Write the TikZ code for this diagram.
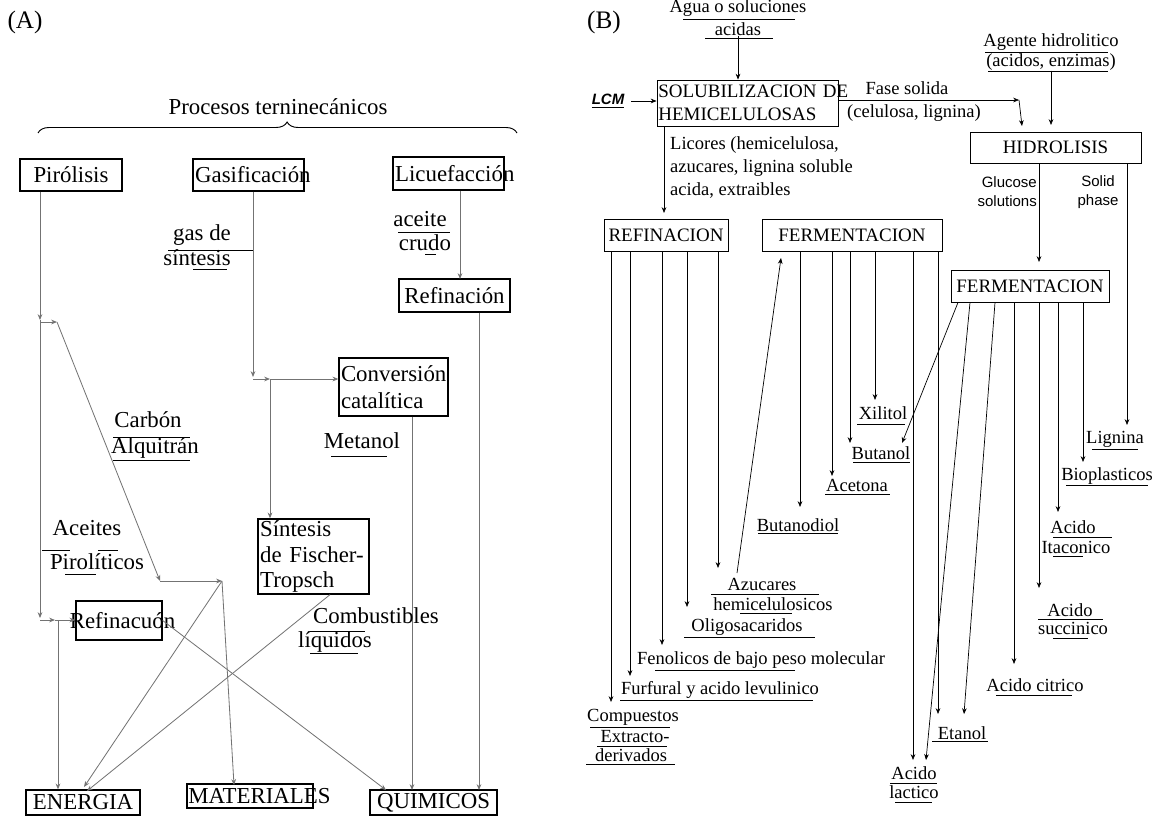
\documentclass[tikz,border=0pt]{standalone}
\usepackage{fontspec}
\setmainfont{Liberation Serif}
\setsansfont{Liberation Sans}
\usetikzlibrary{arrows.meta, decorations.pathreplacing}

\newcommand\fntA{\fontsize{19.5}{23}\selectfont}
\newcommand\fntB{\fontsize{15.8}{19.5}\selectfont}
\newcommand\fntS{\fontsize{12.8}{16}\selectfont\sffamily}

\tikzset{
  arr/.style={-{Stealth[length=5pt,width=4pt]}},
  boxA/.style={draw, line width=1.1pt, inner sep=1pt, font=\fntA},
  boxB/.style={draw, line width=0.7pt, inner sep=1pt, font=\fntB},
  txtA/.style={inner sep=0pt, font=\fntA},
  txtB/.style={inner sep=0pt, font=\fntB},
  lnA/.style={draw=black!55, line width=0.7pt, arr},
  lnB/.style={draw=black, line width=0.6pt, arr},
  ul/.style={line width=0.6pt},
}

\begin{document}
\begin{tikzpicture}[x=0.03cm, y=-0.03cm]
    \useasboundingbox (0,0) rectangle (1158,816);

    % panel A
    \node[txtA, font=\fontsize{21.5}{24}\selectfont] (tA) at (25,22) {(A)};
    \node[txtA] (proc) at (278,107) {Procesos terninecánicos};
    \draw[line width=0.8pt, decorate, decoration={brace, amplitude=0.33cm, aspect=0.52}] (38,133) -- (517,133);

    \node[boxA, minimum width=3.06cm, minimum height=0.96cm] (pir) at (71,175) {Pirólisis};
    \node[boxA, minimum width=3.33cm, minimum height=0.96cm, text width=3.2cm, align=left] (gas) at (248.5,175) {\mbox{Gasificación}};
    \node[boxA, minimum width=3.33cm, minimum height=0.99cm, text width=3.2cm, align=left] (licu) at (448.5,173.5) {\mbox{Licuefacción}};
    \node[boxA, minimum width=3.33cm, minimum height=0.99cm] (refA) at (454.5,295.5) {Refinación};
    \node[boxA, minimum width=3.27cm, minimum height=1.74cm, text width=3.15cm, align=left] (conv) at (393.5,387) {Conversión\\catalítica};
    \node[boxA, inner sep=0pt, minimum width=3.33cm, minimum height=2.25cm, text width=3.2cm, align=left, font=\fontsize{19.5}{22}\selectfont] (ft) at (313.5,556.5) {Síntesis\\de Fischer-\\Tropsch};
    \node[boxA, minimum width=2.58cm, minimum height=1.17cm] (refin) at (119,620.5) {\makebox[0pt]{\hspace{6pt}Refinacuón}};
    \node[boxA, minimum width=3.42cm, minimum height=0.75cm] (energ) at (83,802.5) {ENERGIA};
    \node[boxA, minimum width=3.78cm, minimum height=0.72cm, text width=3.7cm, align=left] (mat) at (250,796) {\mbox{MATERIALES}};
    \node[boxA, minimum width=3.81cm, minimum height=0.75cm] (quim) at (433.5,802.5) {QUIMICOS};

    \coordinate (pj1) at (40,320);
    \coordinate (pk1) at (57,322);
    \coordinate (pk2) at (160,581);
    \coordinate (pk3) at (222,581);
    \coordinate (pj2) at (40,618);
    \coordinate (rj1) at (55,620);
    \coordinate (rj2) at (58,620);
    \coordinate (e1) at (84,787);
    \coordinate (e2) at (87,791);
    \coordinate (m1) at (234,785);
    \coordinate (q1) at (386,790);
    \coordinate (fts) at (330,596);
    \coordinate (gj) at (253,377);
    \coordinate (gk) at (270,379);
    \coordinate (cq) at (412,790);
    \coordinate (lr) at (460,279);
    \coordinate (rq) at (479,790);

    \draw[lnA] (pir.south -| pj1) -- (pj1);
    \draw[lnA] (pj1) -- (pj2);
    \draw[lnA] (pj1 |- pk1) -- (pk1);
    \draw[lnA] (pk1) -- (pk2);
    \draw[lnA] (pk2) -- (pk3);
    \draw[lnA] (pk3) -- (e1);
    \draw[lnA] (pk3) -- (m1);
    \draw[lnA] (pj2 |- rj1) -- (rj1);
    \draw[lnA] (rj1) -- (refin.west |- rj1);
    \draw[lnA] (rj2) -- (rj2 |- energ.north);
    \draw[lnA] (refin.east) -- (q1);
    \draw[lnA] (ft.south -| fts) -- (e2);
    \draw[lnA] (gas.south -| gj) -- (gj);
    \draw[lnA] (gj |- gk) -- (gk);
    \draw[lnA] (gk) -- (conv.west |- gk);
    \draw[lnA] (gk) -- (gk |- ft.north);
    \draw[lnA] (conv.south -| cq) -- (cq);
    \draw[lnA] (licu.south -| lr) -- (lr);
    \draw[lnA] (refA.south -| rq) -- (rq);

    \node[txtA] (aceite) at (420,219) {aceite};
    \node[txtA] (crudo) at (425,243) {crudo};
    \draw[ul] (398,232) -- (450,232) (425,254) -- (436,254);
    \node[txtA] (gasde) at (202,235) {gas de};
    \node[txtA] (sint) at (197,258) {síntesis};
    \draw[ul] (168,250) -- (253,250) (193,269) -- (227,269);
    \node[txtA] (carbon) at (148,420) {Carbón};
    \node[txtA] (alquit) at (155,448) {Alquitrán};
    \draw[ul] (113,437) -- (190,437) (113,460) -- (190,460);
    \node[txtA] (aceites) at (87,528) {Aceites};
    \node[txtA] (pirolit) at (97,562) {Pirolíticos};
    \draw[ul] (42,550) -- (70,550) (98,550) -- (118,550) (65,574) -- (96,574);
    \node[txtA] (metanol) at (362,441) {Metanol};
    \draw[ul] (331,456) -- (387,456);
    \node[txtA] (combust) at (376,616) {Combustibles};
    \node[txtA] (liquid) at (335,642) {líquidos};
    \draw[ul] (310,631) -- (365,631) (310,653) -- (358,653);

    % panel B
    \node[txtA, font=\fontsize{21.5}{24}\selectfont] (tB) at (604,22) {(B)};
    \node[txtB] (agua) at (738,8) {Agua o soluciones};
    \node[txtB] (acidas) at (738,29) {acidas};
    \draw[ul] (683,19) -- (795,19) (705,38) -- (773,38);
    \node[boxB, minimum width=5.43cm, minimum height=1.38cm, text width=5.35cm, align=left, font=\fontsize{16.2}{19.6}\selectfont] (sol) at (747.5,103) {\mbox{SOLUBILIZACION DE}\\HEMICELULOSAS};
    \node[inner sep=0pt, font=\fntS\bfseries\itshape] (lcm) at (608,101) {\underline{LCM}};
    \draw[lnB] (acidas.south) -- (acidas.south |- sol.north);
    \draw[lnB, shorten <=2mm] (lcm.east) -- (sol.west |- lcm.east);

    \coordinate (sr) at (664,213);
    \draw[lnB] (sol.south -| sr) -- (sr);
    \node[txtB, anchor=north west, align=left, font=\fontsize{15.8}{20}\selectfont] (licores) at (670,136) {Licores (hemicelulosa,\\azucares, lignina soluble\\acida, extraibles};

    \node[boxB, minimum width=3.72cm, minimum height=0.96cm, font=\fontsize{16.2}{19}\selectfont] (refB) at (666,235) {REFINACION};
    \node[boxB, minimum width=5.4cm, minimum height=0.96cm, font=\fontsize{16.2}{19}\selectfont] (fermA) at (852,235) {FERMENTACION};

    \coordinate (fs1) at (1019,100);
    \coordinate (fs2) at (1022,126);
    \draw[lnB] (sol.east |- fs1) -- (fs1);
    \draw[lnB] (fs1) -- (fs2);
    \node[txtB] (fase) at (907,88) {Fase solida};
    \node[txtB] (celul) at (914,113) {(celulosa, lignina)};

    \node[txtB] (agente) at (1051,42) {Agente hidrolitico};
    \node[txtB] (acidos) at (1051,62) {(acidos, enzimas)};
    \draw[ul] (985,52) -- (1108,52) (988,71) -- (1108,71);
    \coordinate (ah) at (1051,125);
    \draw[lnB] (acidos.south) -- (ah);

    \node[boxB, minimum width=5.13cm, minimum height=0.93cm, font=\fontsize{16.2}{19}\selectfont] (hidro) at (1055.5,147.5) {HIDROLISIS};
    \node[inner sep=0pt, font=\fntS, align=right, anchor=east] (gluc) at (1037,192) {Glucose\\solutions};
    \node[inner sep=0pt, font=\fntS, align=center] (solid) at (1098,192) {Solid\\phase};
    \coordinate (hf) at (1039,262);
    \coordinate (hl) at (1127,425);
    \draw[lnB] (hidro.south -| hf) -- (hf);
    \draw[lnB] (hidro.south -| hl) -- (hl);
    \node[boxB, minimum width=4.74cm, minimum height=0.96cm, font=\fontsize{16.2}{19}\selectfont] (fermB) at (1030,286) {FERMENTACION};

    % refinacion products
    \coordinate (r1) at (611,702);
    \coordinate (r2) at (630,676);
    \coordinate (r3) at (662,645);
    \coordinate (r4) at (687,607);
    \coordinate (r5) at (718,568);
    \draw[lnB] (refB.south -| r1) -- (r1);
    \draw[lnB] (refB.south -| r2) -- (r2);
    \draw[lnB] (refB.south -| r3) -- (r3);
    \draw[lnB] (refB.south -| r4) -- (r4);
    \draw[lnB] (refB.south -| r5) -- (r5);

    \node[txtB] (comp1) at (633,717) {Compuestos};
    \node[txtB] (comp2) at (635,737) {Extracto-};
    \node[txtB] (comp3) at (631,755) {derivados};
    \draw[ul] (590,727) -- (670,727) (597,746) -- (667,746) (586,764) -- (675,764);
    \node[txtB] (furf) at (720,690) {Furfural y acido levulinico};
    \draw[ul] (620,700) -- (813,700);
    \node[txtB] (fenol) at (761,660) {Fenolicos de bajo peso molecular};
    \draw[ul] (655,670) -- (795,670);
    \node[txtB] (oligo) at (747,627) {Oligosacaridos};
    \draw[ul] (684,637) -- (815,637);
    \node[txtB] (azuc1) at (762,584) {Azucares};
    \node[txtB] (azuc2) at (773,604) {hemicelulosicos};
    \draw[ul] (711,594) -- (819,594) (740,613) -- (792,613);

    % fermentacion products
    \coordinate (az) at (737,573);
    \coordinate (f0) at (781,258);
    \draw[lnB] (az) -- (f0);
    \coordinate (m1) at (800,507);
    \coordinate (m2) at (832,476);
    \coordinate (m3) at (850,443);
    \coordinate (m4) at (875,400);
    \coordinate (m5) at (913,760);
    \coordinate (m6) at (938,714);
    \draw[lnB] (fermA.south -| m1) -- (m1);
    \draw[lnB] (fermA.south -| m2) -- (m2);
    \draw[lnB] (fermA.south -| m3) -- (m3);
    \draw[lnB] (fermA.south -| m4) -- (m4);
    \draw[lnB] (fermA.south -| m5) -- (m5);
    \draw[lnB] (fermA.south -| m6) -- (m6);

    \coordinate (s1) at (958,302);
    \coordinate (s2) at (970,302);
    \coordinate (s3) at (995,302);
    \coordinate (n1) at (902,443);
    \coordinate (n2) at (926,760);
    \coordinate (n3) at (964,714);
    \coordinate (n4) at (1014,664);
    \coordinate (n5) at (1039,588);
    \coordinate (n6) at (1058,512);
    \coordinate (n7) at (1083,462);
    \draw[lnB] (fermB.south -| s1) -- (n1);
    \draw[lnB] (fermB.south -| s2) -- (n2);
    \draw[lnB] (fermB.south -| s3) -- (n3);
    \draw[lnB] (fermB.south -| n4) -- (n4);
    \draw[lnB] (fermB.south -| n5) -- (n5);
    \draw[lnB] (fermB.south -| n6) -- (n6);
    \draw[lnB] (fermB.south -| n7) -- (n7);

    \node[txtB] (butd) at (798,525) {Butanodiol};
    \draw[ul] (758,533) -- (838,533);
    \node[txtB] (acet) at (857,485) {Acetona};
    \draw[ul] (825,494) -- (890,494);
    \node[txtB] (butol) at (881,453) {Butanol};
    \draw[ul] (853,462) -- (910,462);
    \node[txtB] (xil) at (883,413) {Xilitol};
    \draw[ul] (857,424) -- (905,424);
    \node[txtB] (lign) at (1115,439) {Lignina};
    \draw[ul] (1092,449) -- (1138,449);
    \node[txtB] (biop) at (1107,476) {Bioplasticos};
    \draw[ul] (1066,485) -- (1148,485);
    \node[txtB] (ita1) at (1073,527) {Acido};
    \node[txtB] (ita2) at (1076,547) {Itaconico};
    \draw[ul] (1053,537) -- (1112,537) (1053,556) -- (1083,556);
    \node[txtB] (suc1) at (1070,610) {Acido};
    \node[txtB] (suc2) at (1073,628) {succinico};
    \draw[ul] (1038,619) -- (1103,619) (1053,638) -- (1088,638);
    \node[txtB] (citr) at (1035,685) {Acido citrico};
    \draw[ul] (996,695) -- (1072,695);
    \node[txtB] (etan) at (962,733) {Etanol};
    \draw[ul] (932,741) -- (988,741);
    \node[txtB] (lac1) at (914,773) {Acido};
    \node[txtB] (lac2) at (914,792) {lactico};
    \draw[ul] (890,783) -- (937,783) (895,802) -- (932,802);
\end{tikzpicture}
\end{document}
